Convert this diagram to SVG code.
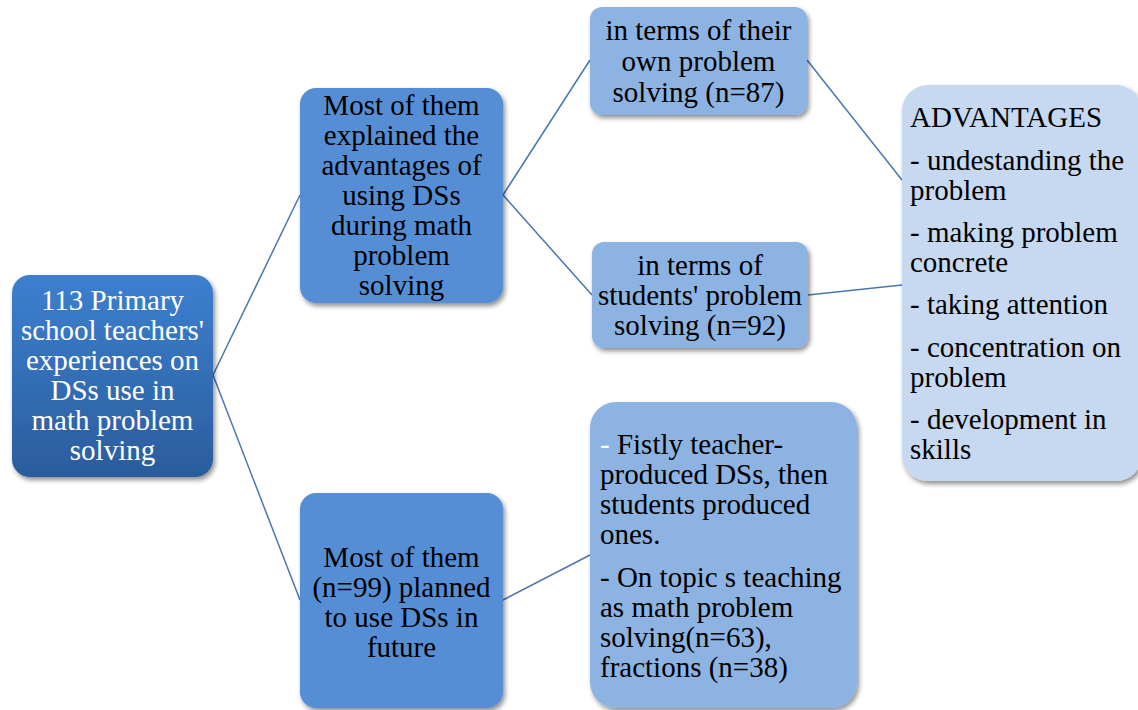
<svg xmlns="http://www.w3.org/2000/svg" width="1138" height="710" viewBox="0 0 1138 710">
<defs>
<linearGradient id="rootGrad" x1="0" y1="0" x2="0" y2="1">
<stop offset="0" stop-color="#3c80d0"/>
<stop offset="1" stop-color="#2b5c9c"/>
</linearGradient>
<filter id="sh" x="-10%" y="-10%" width="125%" height="125%">
<feGaussianBlur in="SourceAlpha" stdDeviation="2.5"/>
<feOffset dx="2" dy="3" result="b"/>
<feComponentTransfer><feFuncA type="linear" slope="0.45"/></feComponentTransfer>
<feMerge><feMergeNode/><feMergeNode in="SourceGraphic"/></feMerge>
</filter>
</defs>
<style>
text{font-family:'Liberation Serif','Times New Roman','DejaVu Serif',serif;font-size:29px;fill:#000}
.c{text-anchor:middle}
.w{fill:#fff}
.mid{fill:#558ed5}
.lt{fill:#8db3e2}
.pale{fill:#c6d9f1}
.ln{stroke:#4a76b0;stroke-width:1.5;fill:none}
</style>
<rect width="1138" height="710" fill="#fff"/>
<g id="connectors">
<line class="ln" x1="213" y1="375" x2="300" y2="195"/>
<line class="ln" x1="213" y1="375" x2="300" y2="600"/>
<line class="ln" x1="503" y1="195" x2="590" y2="60"/>
<line class="ln" x1="503" y1="195" x2="592" y2="295"/>
<line class="ln" x1="807" y1="60" x2="902" y2="180"/>
<line class="ln" x1="808" y1="295" x2="902" y2="285"/>
<line class="ln" x1="503" y1="600" x2="590" y2="555"/>
</g>
<g id="root">
<rect x="12" y="275" width="201" height="202" rx="18" fill="url(#rootGrad)" filter="url(#sh)"/>
<text class="c w" x="112.5" y="310">113 Primary</text>
<text class="c w" x="112.5" y="340">school teachers'</text>
<text class="c w" x="112.5" y="370">experiences on</text>
<text class="c w" x="112.5" y="400">DSs use in</text>
<text class="c w" x="112.5" y="430">math problem</text>
<text class="c w" x="112.5" y="460">solving</text>
</g>
<g id="advantages-explained">
<rect class="mid" x="300" y="88" width="203" height="215" rx="16" filter="url(#sh)"/>
<text class="c" x="401.5" y="115">Most of them</text>
<text class="c" x="401.5" y="145">explained the</text>
<text class="c" x="401.5" y="175">advantages of</text>
<text class="c" x="401.5" y="205">using DSs</text>
<text class="c" x="401.5" y="235">during math</text>
<text class="c" x="401.5" y="265">problem</text>
<text class="c" x="401.5" y="295">solving</text>
</g>
<g id="own-problem-solving">
<rect class="lt" x="590" y="7" width="217" height="108" rx="12" filter="url(#sh)"/>
<text class="c" x="698.5" y="40">in terms of their</text>
<text class="c" x="698.5" y="71">own problem</text>
<text class="c" x="698.5" y="102">solving (n=87)</text>
</g>
<g id="students-problem-solving">
<rect class="lt" x="592" y="242" width="216" height="106" rx="12" filter="url(#sh)"/>
<text class="c" x="700" y="275">in terms of</text>
<text class="c" x="700" y="305">students' problem</text>
<text class="c" x="700" y="335">solving (n=92)</text>
</g>
<g id="advantages-list">
<rect class="pale" x="902" y="85" width="240" height="396" rx="26" filter="url(#sh)"/>
<text x="910" y="127">ADVANTAGES</text>
<text x="910" y="170">- undestanding the</text>
<text x="910" y="200">problem</text>
<text x="910" y="242">- making problem</text>
<text x="910" y="272">concrete</text>
<text x="910" y="314">- taking attention</text>
<text x="910" y="357">- concentration on</text>
<text x="910" y="387">problem</text>
<text x="910" y="429">- development in</text>
<text x="910" y="459">skills</text>
</g>
<g id="planned-future">
<rect class="mid" x="300" y="493" width="203" height="215" rx="16" filter="url(#sh)"/>
<text class="c" x="401.5" y="567">Most of them</text>
<text class="c" x="401.5" y="597">(n=99) planned</text>
<text class="c" x="401.5" y="627">to use DSs in</text>
<text class="c" x="401.5" y="657">future</text>
</g>
<g id="future-plans">
<rect class="lt" x="590" y="402" width="267" height="306" rx="26" filter="url(#sh)"/>
<text x="600" y="454"><tspan fill="#fff">-</tspan> Fistly teacher-</text>
<text x="600" y="484">produced DSs, then</text>
<text x="600" y="514">students produced</text>
<text x="600" y="544">ones.</text>
<text x="600" y="587">- On topic s teaching</text>
<text x="600" y="617">as math problem</text>
<text x="600" y="647">solving(n=63),</text>
<text x="600" y="677">fractions (n=38)</text>
</g>
</svg>
